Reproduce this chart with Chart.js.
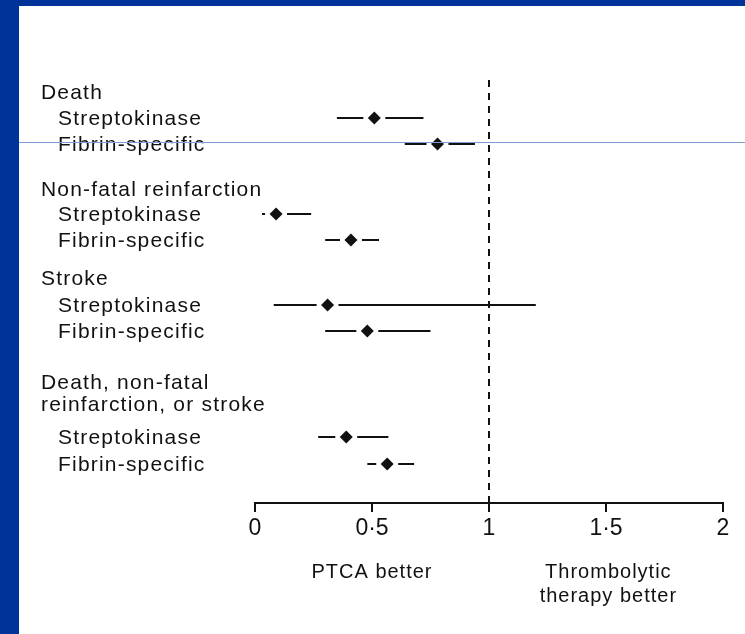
<!DOCTYPE html>
<html>
<head>
<meta charset="utf-8">
<script src="https://cdn.jsdelivr.net/npm/chart.js@4"></script>
<style>
    body { margin: 0; background: #fff; }
    #wrap { position: relative; width: 745px; height: 634px; overflow: hidden; background: #fff; }
    #forest { position: absolute; left: 0; top: 0; }
    .bar { position: absolute; background: #003399; }
</style>
</head>
<body>
<div id="wrap">
    <canvas id="forest" width="745" height="634"></canvas>
    <div class="bar" style="left:0;top:0;width:19px;height:634px"></div>
    <div class="bar" style="left:0;top:0;width:745px;height:6px"></div>
    <div style="position:absolute;left:19px;top:142px;width:726px;height:1px;background:#7f9bd6"></div>
</div>
<script>
// Data (odds ratio, 95% CI)
const outcomes = ["Death", "Non-fatal reinfarction", "Stroke", "Death, non-fatal reinfarction, or stroke"];
const treatments = ["Streptokinase", "Fibrin-specific"];
const estimates = [0.51, 0.78, 0.09, 0.41, 0.31, 0.48, 0.39, 0.565];
const lower     = [0.35, 0.64, 0.03, 0.30, 0.08, 0.30, 0.27, 0.48];
const upper     = [0.72, 0.94, 0.24, 0.53, 1.20, 0.75, 0.57, 0.68];
const xTickValues = [0, 0.5, 1, 1.5, 2];
const xTickLabels = ["0", "0·5", "1", "1·5", "2"];
const favourLeft = ["PTCA better"];
const favourRight = ["Thrombolytic", "therapy better"];

// Layout: vertical slots (in text lines) for rows and headings
const rowY = [1.46, 2.47, 5.16, 6.17, 8.67, 9.67, 13.76, 14.80];
const headingY = [[0.52], [4.24], [7.67], [11.68, 12.54]];
const headingLines = [["Death"], ["Non-fatal reinfarction"], ["Stroke"], ["Death, non-fatal", "reinfarction, or stroke"]];

const FONT = "'Liberation Sans', Arial, sans-serif";
const INK = "#111";

// Confidence interval lines
const ciLines = {
    id: "ciLines",
    beforeDatasetsDraw(chart) {
        const { ctx, scales: { x, y } } = chart;
        ctx.save();
        ctx.strokeStyle = INK;
        ctx.lineWidth = 2;
        estimates.forEach((v, i) => {
            const py = Math.round(y.getPixelForValue(rowY[i]));
            ctx.beginPath();
            ctx.moveTo(x.getPixelForValue(lower[i]), py);
            ctx.lineTo(x.getPixelForValue(upper[i]), py);
            ctx.stroke();
        });
        ctx.restore();
    }
};

// Row labels and the "better" captions
const textLabels = {
    id: "textLabels",
    afterDraw(chart) {
        const { ctx, scales: { x, y } } = chart;
        ctx.save();
        ctx.fillStyle = INK;
        ctx.font = "21px " + FONT;
        ctx.textBaseline = "middle";
        ctx.letterSpacing = "1.2px";
        ctx.textAlign = "left";
        headingLines.forEach((lines, g) => {
            lines.forEach((t, k) => ctx.fillText(t, 41, y.getPixelForValue(headingY[g][k])));
            treatments.forEach((t, k) => {
                ctx.fillText(t, 58, y.getPixelForValue(rowY[g * 2 + k]) + 1.5);
            });
        });
        ctx.font = "20px " + FONT;
        ctx.letterSpacing = "1px";
        ctx.textAlign = "center";
        favourLeft.forEach((t, k) => ctx.fillText(t, x.getPixelForValue(0.5), 572 + k * 24));
        favourRight.forEach((t, k) => ctx.fillText(t, x.getPixelForValue(1.51), 572 + k * 24));
        ctx.restore();
    }
};

const points = estimates.map((v, i) => ({ x: v, y: rowY[i] }));

new Chart(document.getElementById("forest"), {
    type: "scatter",
    data: {
        datasets: [
            {
                data: points,
                pointStyle: "rectRot",
                pointRadius: 6.5,
                backgroundColor: INK,
                borderColor: INK,
                borderWidth: 0
            },
            {
                data: points,
                pointStyle: "circle",
                pointRadius: 11,
                backgroundColor: "#fff",
                borderWidth: 0
            },
            {
                type: "line",
                data: [{ x: 1, y: 0 }, { x: 1, y: 16.3 }],
                borderColor: INK,
                borderWidth: 2,
                borderDash: [7, 6],
                pointRadius: 0
            }
        ]
    },
    options: {
        responsive: false,
        animation: false,
        devicePixelRatio: 1,
        layout: { padding: { left: 255, right: 22, top: 80, bottom: 71 } },
        plugins: { legend: { display: false }, tooltip: { enabled: false } },
        scales: {
            x: {
                type: "linear",
                min: 0,
                max: 2,
                afterFit(scale) { scale.height = 60; },
                afterBuildTicks(scale) { scale.ticks = xTickValues.map(v => ({ value: v })); },
                border: { display: true, color: INK, width: 2 },
                grid: { drawOnChartArea: false, drawTicks: true, tickLength: 9, color: INK, lineWidth: 2 },
                ticks: {
                    callback: (v) => xTickLabels[xTickValues.indexOf(v)],
                    font: { family: FONT, size: 23 },
                    color: INK,
                    padding: 3,
                    maxRotation: 0,
                    autoSkip: false
                }
            },
            y: {
                type: "linear",
                reverse: true,
                min: 0,
                max: 16.3,
                display: false
            }
        }
    },
    plugins: [ciLines, textLabels]
});
</script>
</body>
</html>
